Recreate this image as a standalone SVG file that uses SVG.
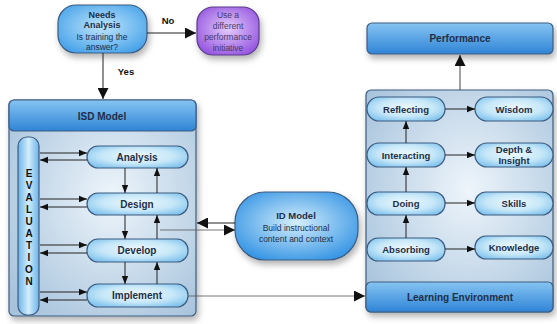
<svg xmlns="http://www.w3.org/2000/svg" width="557" height="324" viewBox="0 0 557 324">
<defs>
<linearGradient id="hdr" x1="0" y1="0" x2="0" y2="1"><stop offset="0" stop-color="#86c4f2"/><stop offset="1" stop-color="#2f84d6"/></linearGradient>
<radialGradient id="panel" cx="0.55" cy="0.45" r="0.7"><stop offset="0" stop-color="#eef5fb"/><stop offset="1" stop-color="#a7c3dc"/></radialGradient>
<radialGradient id="pill" cx="0.5" cy="0.45" r="0.6"><stop offset="0" stop-color="#eef9fe"/><stop offset="0.6" stop-color="#c6e7f8"/><stop offset="1" stop-color="#86c6ee"/></radialGradient>
<radialGradient id="needs" cx="0.5" cy="0.45" r="0.6"><stop offset="0" stop-color="#bfe5fb"/><stop offset="1" stop-color="#4aa4ea"/></radialGradient>
<radialGradient id="purple" cx="0.5" cy="0.45" r="0.6"><stop offset="0" stop-color="#e4ccfb"/><stop offset="1" stop-color="#9657e0"/></radialGradient>
<radialGradient id="idm" cx="0.5" cy="0.45" r="0.6"><stop offset="0" stop-color="#d4eefc"/><stop offset="1" stop-color="#3896e4"/></radialGradient>
<linearGradient id="eval" x1="0" y1="0" x2="1" y2="0"><stop offset="0" stop-color="#6cb4e8"/><stop offset="0.5" stop-color="#d2edfb"/><stop offset="1" stop-color="#6cb4e8"/></linearGradient>
<filter id="sh" x="-20%" y="-20%" width="150%" height="160%"><feDropShadow dx="2" dy="4" stdDeviation="3" flood-color="#000" flood-opacity="0.3"/></filter>
<marker id="ah" viewBox="0 0 10 10" refX="10" refY="5" markerWidth="11" markerHeight="11" markerUnits="userSpaceOnUse" orient="auto"><path d="M0,0 L10,5 L0,10 z" fill="#111"/></marker>
<marker id="as" viewBox="0 0 10 10" refX="10" refY="5" markerWidth="8" markerHeight="8" markerUnits="userSpaceOnUse" orient="auto"><path d="M0,1 L10,5 L0,9 z" fill="#111"/></marker>
</defs>
<style>
.t{font-family:"Liberation Sans",Arial,sans-serif;fill:#1f2f47;text-anchor:middle}
.b{font-weight:bold;font-size:10px}
.r{font-size:8.5px}
.p{font-size:8.5px;fill:#4a3a6a}
.box{stroke:#3c5c80;stroke-width:1.2}
.ln{stroke:#222;stroke-width:1;fill:none}
</style>

<g id="needs-analysis">
<rect class="box" x="58" y="5" width="89" height="48" rx="18" fill="url(#needs)" filter="url(#sh)"/>
<text class="t b" x="102" y="18" style="font-size:9px">Needs</text>
<text class="t b" x="102" y="28" style="font-size:9px">Analysis</text>
<text class="t r" x="102" y="40">Is training the</text>
<text class="t r" x="102" y="50">answer?</text>
</g>

<g id="other-initiative">
<rect x="197" y="7" width="62" height="48" rx="16" fill="url(#purple)" stroke="#5a3a8a" stroke-width="1.2" filter="url(#sh)"/>
<text class="t p" x="228" y="18">Use a</text>
<text class="t p" x="228" y="29">different</text>
<text class="t p" x="228" y="40">performance</text>
<text class="t p" x="228" y="51">initiative</text>
</g>

<g id="isd-model">
<rect class="box" x="9" y="100" width="187" height="216" rx="5" fill="url(#panel)" filter="url(#sh)"/>
<rect class="box" x="9" y="100" width="187" height="31" rx="5" fill="url(#hdr)"/>
<text class="t b" x="102" y="120">ISD Model</text>
</g>

<g id="evaluation">
<rect class="box" x="18" y="137" width="21" height="178" rx="9" fill="url(#eval)"/>
<g class="t b" style="font-size:10px;fill:#111">
<text x="29" y="177">E</text><text x="29" y="189">V</text><text x="29" y="201">A</text><text x="29" y="213">L</text><text x="29" y="225">U</text><text x="29" y="237">A</text><text x="29" y="249">T</text><text x="29" y="261">I</text><text x="29" y="273">O</text><text x="29" y="285">N</text>
</g>
</g>

<g id="analysis"><rect class="box" x="87" y="146" width="101" height="22" rx="11" fill="url(#pill)"/><text class="t b" x="137" y="161">Analysis</text></g>
<g id="design"><rect class="box" x="87" y="193" width="101" height="22" rx="11" fill="url(#pill)"/><text class="t b" x="137" y="208">Design</text></g>
<g id="develop"><rect class="box" x="87" y="239" width="101" height="23" rx="11" fill="url(#pill)"/><text class="t b" x="137" y="254">Develop</text></g>
<g id="implement"><rect class="box" x="87" y="284" width="101" height="23" rx="11" fill="url(#pill)"/><text class="t b" x="137" y="299">Implement</text></g>

<g id="id-model">
<rect class="box" x="235" y="192" width="123" height="68" rx="30" fill="url(#idm)" filter="url(#sh)"/>
<text class="t b" x="296" y="219" style="font-size:9.5px">ID Model</text>
<text class="t r" x="296" y="231">Build instructional</text>
<text class="t r" x="296" y="242">content and context</text>
</g>

<g id="performance">
<rect class="box" x="367" y="23" width="186" height="31" rx="5" fill="url(#hdr)" filter="url(#sh)"/>
<text class="t b" x="460" y="42">Performance</text>
</g>

<g id="learning-environment">
<rect class="box" x="366" y="90" width="187" height="222" rx="5" fill="url(#panel)" filter="url(#sh)"/>
<rect class="box" x="366" y="282" width="187" height="30" rx="5" fill="url(#hdr)"/>
<text class="t b" x="460" y="301">Learning Environment</text>
</g>

<g id="reflecting"><rect class="box" x="367" y="97" width="78" height="24" rx="12" fill="url(#pill)"/><text class="t b" x="406" y="113" style="font-size:9.5px">Reflecting</text></g>
<g id="wisdom"><rect class="box" x="475" y="97" width="78" height="24" rx="12" fill="url(#pill)"/><text class="t b" x="514" y="113" style="font-size:9.5px">Wisdom</text></g>
<g id="interacting"><rect class="box" x="367" y="143" width="78" height="24" rx="12" fill="url(#pill)"/><text class="t b" x="406" y="159" style="font-size:9.5px">Interacting</text></g>
<g id="depth-insight"><rect class="box" x="475" y="143" width="78" height="24" rx="12" fill="url(#pill)"/><text class="t b" x="514" y="153" style="font-size:9.5px">Depth &amp;</text><text class="t b" x="514" y="164" style="font-size:9.5px">Insight</text></g>
<g id="doing"><rect class="box" x="367" y="192" width="78" height="23" rx="11" fill="url(#pill)"/><text class="t b" x="406" y="207" style="font-size:9.5px">Doing</text></g>
<g id="skills"><rect class="box" x="475" y="192" width="78" height="23" rx="11" fill="url(#pill)"/><text class="t b" x="514" y="207" style="font-size:9.5px">Skills</text></g>
<g id="absorbing"><rect class="box" x="367" y="238" width="78" height="23" rx="11" fill="url(#pill)"/><text class="t b" x="406" y="253" style="font-size:9.5px">Absorbing</text></g>
<g id="knowledge"><rect class="box" x="475" y="236" width="78" height="23" rx="11" fill="url(#pill)"/><text class="t b" x="514" y="251" style="font-size:9.5px">Knowledge</text></g>

<g id="connectors">
<line class="ln" x1="147" y1="33" x2="196" y2="33" marker-end="url(#ah)"/>
<text class="t b" x="168" y="24" style="font-size:9.5px;fill:#111">No</text>
<line class="ln" x1="103" y1="53" x2="103" y2="99" marker-end="url(#ah)"/>
<text class="t b" x="126" y="75" style="font-size:9.5px;fill:#111">Yes</text>

<line class="ln" x1="40" y1="153" x2="87" y2="153" marker-end="url(#as)"/>
<line class="ln" x1="87" y1="160" x2="40" y2="160" marker-end="url(#as)"/>
<line class="ln" x1="40" y1="199" x2="87" y2="199" marker-end="url(#as)"/>
<line class="ln" x1="87" y1="207" x2="40" y2="207" marker-end="url(#as)"/>
<line class="ln" x1="40" y1="245" x2="87" y2="245" marker-end="url(#as)"/>
<line class="ln" x1="87" y1="253" x2="40" y2="253" marker-end="url(#as)"/>
<line class="ln" x1="40" y1="292" x2="87" y2="292" marker-end="url(#as)"/>
<line class="ln" x1="87" y1="300" x2="40" y2="300" marker-end="url(#as)"/>

<line class="ln" x1="125" y1="168" x2="125" y2="193" marker-end="url(#as)"/>
<line class="ln" x1="157" y1="193" x2="157" y2="168" marker-end="url(#as)"/>
<line class="ln" x1="125" y1="215" x2="125" y2="239" marker-end="url(#as)"/>
<line class="ln" x1="157" y1="239" x2="157" y2="215" marker-end="url(#as)"/>
<line class="ln" x1="125" y1="262" x2="125" y2="284" marker-end="url(#as)"/>
<line class="ln" x1="157" y1="284" x2="157" y2="262" marker-end="url(#as)"/>

<line class="ln" x1="235" y1="223" x2="197" y2="223" marker-end="url(#ah)"/>
<line class="ln" x1="160" y1="230" x2="235" y2="230" marker-end="url(#ah)" style="stroke:#555;stroke-width:0.8"/>
<line class="ln" x1="188" y1="296" x2="365" y2="296" marker-end="url(#ah)" style="stroke:#555;stroke-width:0.8"/>

<line class="ln" x1="460" y1="90" x2="460" y2="55" marker-end="url(#ah)" style="stroke:#444"/>

<line class="ln" x1="445" y1="109" x2="475" y2="109" marker-end="url(#as)"/>
<line class="ln" x1="445" y1="155" x2="475" y2="155" marker-end="url(#as)"/>
<line class="ln" x1="445" y1="203" x2="475" y2="203" marker-end="url(#as)"/>
<line class="ln" x1="445" y1="249" x2="475" y2="249" marker-end="url(#as)"/>
<line class="ln" x1="406" y1="143" x2="406" y2="121" marker-end="url(#as)"/>
<line class="ln" x1="406" y1="192" x2="406" y2="167" marker-end="url(#as)"/>
<line class="ln" x1="406" y1="238" x2="406" y2="215" marker-end="url(#as)"/>
</g>
</svg>
